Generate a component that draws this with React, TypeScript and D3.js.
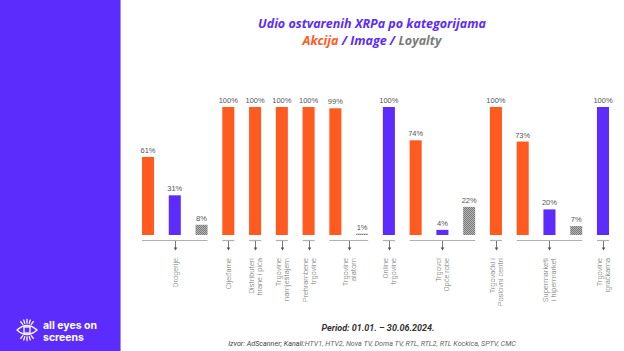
import React from "react";
import * as d3 from "d3";

// categories (line breaks = label lines)
const categories = [
  "Drogerije",
  "Cijeđarne",
  "Distributeri\nhrane i pića",
  "Trgovine\nnamještajem",
  "Prehrambene\ntrgovine",
  "Trgovine\nalatom",
  "Online\ntrgovine",
  "Trgovci\nOpće robe",
  "Trgovački i\nPoslovni centri",
  "Supermarketi\ni hipermarket",
  "Trgovine\nigračkama",
];

// values in %, null = no bar
const akcija = [61, 100, 100, 100, 100, 99, null, 74, 100, 73, null];
const image = [31, null, null, null, null, null, 100, 4, null, 20, 100];
const loyalty = [8, null, null, null, null, 1, null, 22, null, 7, null];

const seriesNames = ["Akcija", "Image", "Loyalty"];
const seriesValues = [akcija, image, loyalty];

const sourceLead = "Izvor: AdScanner; Kanali:";
const sourceRest = "HTV1, HTV2, Nova TV, Doma TV, RTL, RTL2, RTL Kockica, SPTV, CMC";
const period = "Period: 01.01. – 30.06.2024.";

const ORANGE = "#ff5a1f";
const PURPLE = "#5b2cfc";
const GRAY_TEXT = "#6f6f6f";

const width = 624;
const height = 351;

interface Slot {
  cat: number;
  series: number;
  value: number;
}

// flatten: each present value takes one slot
const slots: Slot[] = [];
categories.forEach((_, ci) => {
  seriesValues.forEach((vals, si) => {
    const v = vals[ci];
    if (v !== null && v !== undefined) slots.push({ cat: ci, series: si, value: v });
  });
});

const x = d3
  .scaleBand<number>()
  .domain(slots.map((_, i) => i))
  .range([142, 609])
  .paddingInner(0.55)
  .paddingOuter(0);

const y = d3.scaleLinear().domain([0, 100]).range([235, 107]);

const fillFor = (s: number) => (s === 0 ? ORANGE : s === 1 ? PURPLE : "url(#loyaltyHatch)");

const Logo: React.FC = () => {
  const cx = 27;
  const cy = 330;
  const rays = d3.range(-2, 3).map(i => i * 0.32);
  return (
    <g stroke="#fff" strokeWidth={1.3} fill="none" strokeLinecap="round">
      {/* eye outline */}
      <path d={`M${cx - 10},${cy} Q${cx},${cy - 9} ${cx + 10},${cy} Q${cx},${cy + 9} ${cx - 10},${cy}`} />
      <rect x={cx - 3} y={cy - 3} width={6} height={6} />
      {rays.map((a, i) => (
        <g key={i}>
          <line
            x1={cx + Math.sin(a) * 7}
            y1={cy - Math.cos(a) * 7}
            x2={cx + Math.sin(a) * 10.5}
            y2={cy - Math.cos(a) * 10.5}
          />
          <line
            x1={cx + Math.sin(a) * 7}
            y1={cy + Math.cos(a) * 7}
            x2={cx + Math.sin(a) * 10.5}
            y2={cy + Math.cos(a) * 10.5}
          />
        </g>
      ))}
      <text x={43} y={329} fill="#fff" stroke="none" fontFamily="Inter, sans-serif" fontWeight={700} fontSize={10.5}>
        all eyes on
      </text>
      <text x={43} y={341} fill="#fff" stroke="none" fontFamily="Inter, sans-serif" fontWeight={700} fontSize={10.5}>
        screens
      </text>
    </g>
  );
};

const App: React.FC = () => {
  // group slot ranges per category
  const groups = categories.map((label, ci) => {
    const idx = slots.map((s, i) => (s.cat === ci ? i : -1)).filter(i => i >= 0);
    const x0 = x(idx[0]) as number;
    const x1 = (x(idx[idx.length - 1]) as number) + x.bandwidth();
    return { label, x0, x1, mid: Math.round((x0 + x1) / 2) + 0.5 };
  });

  return (
    <svg
      width={width}
      height={height}
      viewBox={`0 0 ${width} ${height}`}
      style={{ position: "absolute", left: 0, top: 0, display: "block" }}
    >
      <defs>
        <pattern id="loyaltyHatch" width={2} height={2} patternUnits="userSpaceOnUse">
          <rect width={2} height={2} fill="#b5b5b5" />
          <rect width={1} height={1} fill="#7a7a7a" />
          <rect x={1} y={1} width={1} height={1} fill="#7a7a7a" />
        </pattern>
      </defs>

      <rect x={0} y={0} width={width} height={height} fill="#fff" />
      <rect x={0} y={0} width={120} height={height} fill={PURPLE} />
      <line x1={120.5} x2={120.5} y1={0} y2={height} stroke="#a08cf7" strokeWidth={1} />
      <Logo />

      {/* title */}
      <text
        x={372}
        y={28}
        textAnchor="middle"
        fontFamily="'Open Sans', sans-serif"
        fontStyle="italic"
        fontWeight={700}
        fontSize={12.5}
        fill={PURPLE}
      >
        Udio ostvarenih XRPa po kategorijama
      </text>
      <text
        x={372}
        y={44.5}
        textAnchor="middle"
        fontFamily="'Open Sans', sans-serif"
        fontStyle="italic"
        fontWeight={700}
        fontSize={12.5}
      >
        <tspan fill={ORANGE}>{seriesNames[0]}</tspan>
        <tspan fill={PURPLE}>{` / ${seriesNames[1]} / `}</tspan>
        <tspan fill="#7b7b7b">{seriesNames[2]}</tspan>
      </text>

      {/* bars */}
      <g>
        {slots.map((s, i) => (
          <rect
            key={i}
            x={x(i)}
            y={y(s.value)}
            width={x.bandwidth()}
            height={y(0) - y(s.value)}
            fill={fillFor(s.series)}
          />
        ))}
      </g>

      {/* value labels */}
      <g fontFamily="'Liberation Sans', Arial, sans-serif" fontSize={7.5} fill="#555" textAnchor="middle">
        {slots.map((s, i) => (
          <text key={i} x={(x(i) as number) + x.bandwidth() / 2} y={y(s.value) - 4}>
            {s.value}%
          </text>
        ))}
      </g>

      {/* category brackets + arrows */}
      <g>
        {groups.map((g, i) => (
          <g key={i}>
            <line x1={g.x0} x2={g.x1} y1={240.5} y2={240.5} stroke="#b0b0b0" strokeWidth={1.2} />
            <line x1={g.mid} x2={g.mid} y1={241} y2={248} stroke="#555" strokeWidth={0.8} />
            <path d={`M${g.mid - 1.8},${247.5} L${g.mid + 1.8},${247.5} L${g.mid},${250.5} Z`} fill="#555" />
          </g>
        ))}
      </g>

      {/* category labels */}
      <g fontFamily="Roboto, sans-serif" fontWeight={300} fontSize={7.5} fill={GRAY_TEXT} textAnchor="end">
        {groups.map((g, i) => {
          const lines = g.label.split("\n");
          return (
            <text key={i} transform={`translate(${g.mid},258) rotate(-90)`}>
              {lines.map((l, li) => (
                <tspan key={li} x={0} y={(li - (lines.length - 1) / 2) * 8 + 2.7}>
                  {l}
                </tspan>
              ))}
            </text>
          );
        })}
      </g>

      {/* footer */}
      <text
        x={378}
        y={331}
        textAnchor="middle"
        fontFamily="Roboto, sans-serif"
        fontStyle="italic"
        fontWeight={700}
        fontSize={9}
        fill="#333"
      >
        {period}
      </text>
      <text
        x={372}
        y={346}
        textAnchor="middle"
        fontFamily="Roboto, sans-serif"
        fontStyle="italic"
        fontSize={7.2}
        fill="#666"
      >
        <tspan fill="#444">{sourceLead}</tspan>
        <tspan>{sourceRest}</tspan>
      </text>
    </svg>
  );
};

export default App;
